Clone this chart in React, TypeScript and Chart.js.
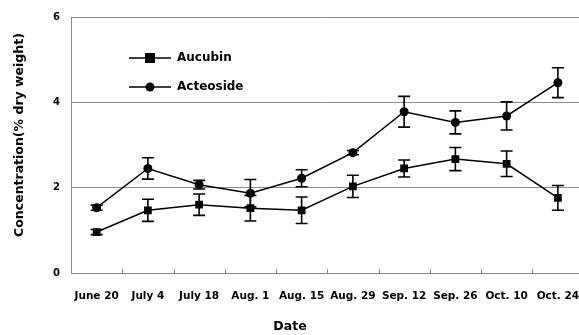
import React, { useEffect, useRef } from "react";
import { Chart, registerables } from "chart.js";

Chart.register(...registerables);

// Sampling dates and measured concentrations (% dry weight) with standard errors
const dates = ["June 20", "July 4", "July 18", "Aug. 1", "Aug. 15", "Aug. 29", "Sep. 12", "Sep. 26", "Oct. 10", "Oct. 24"];
const aucubin = [0.96, 1.47, 1.6, 1.52, 1.47, 2.03, 2.45, 2.67, 2.56, 1.76];
const aucubinErr = [0.06, 0.26, 0.25, 0.3, 0.31, 0.26, 0.2, 0.27, 0.3, 0.29];
const acteoside = [1.53, 2.45, 2.07, 1.87, 2.22, 2.82, 3.78, 3.53, 3.68, 4.46];
const acteosideErr = [0.06, 0.25, 0.1, 0.32, 0.2, 0.05, 0.36, 0.27, 0.33, 0.35];
const yTicks = [0, 2, 4, 6];
const seriesNames = ["Aucubin", "Acteoside"];

const FONT = '"DejaVu Sans", sans-serif';
const AXIS_GRAY = "#8a8a8a";

const errorBars = {
  id: "errorBars",
  beforeDatasetsDraw(chart: any) {
    const { ctx } = chart;
    const y = chart.scales.y;
    const errs = [aucubinErr, acteosideErr];
    ctx.save();
    ctx.strokeStyle = "#000";
    ctx.lineWidth = 1.6;
    chart.data.datasets.forEach((ds: any, di: number) => {
      const meta = chart.getDatasetMeta(di);
      meta.data.forEach((pt: any, i: number) => {
        const v = ds.data[i];
        const e = errs[di][i];
        const top = y.getPixelForValue(v + e);
        const bot = y.getPixelForValue(v - e);
        const x = pt.x;
        ctx.beginPath();
        ctx.moveTo(x, top);
        ctx.lineTo(x, bot);
        ctx.moveTo(x - 6, top);
        ctx.lineTo(x + 6, top);
        ctx.moveTo(x - 6, bot);
        ctx.lineTo(x + 6, bot);
        ctx.stroke();
      });
    });
    ctx.restore();
  },
};

const decorations = {
  id: "decorations",
  afterDraw(chart: any) {
    const { ctx, chartArea } = chart;
    const xs = chart.scales.x;
    ctx.save();
    // inward tick marks between categories
    ctx.strokeStyle = AXIS_GRAY;
    ctx.lineWidth = 1;
    for (let i = 1; i < dates.length; i++) {
      const bx = Math.round((xs.getPixelForValue(i - 1) + xs.getPixelForValue(i)) / 2) + 0.5;
      ctx.beginPath();
      ctx.moveTo(bx, chartArea.bottom);
      ctx.lineTo(bx, chartArea.bottom - 4);
      ctx.stroke();
    }

    // legend
    ctx.strokeStyle = "#000";
    ctx.fillStyle = "#000";
    ctx.lineWidth = 1.5;
    const rows = [58, 87];
    rows.forEach((ly, k) => {
      ctx.beginPath();
      ctx.moveTo(129, ly);
      ctx.lineTo(171, ly);
      ctx.stroke();
      if (k === 0) {
        ctx.fillRect(145, ly - 5, 10, 10);
      } else {
        ctx.beginPath();
        ctx.arc(150, ly, 4.5, 0, Math.PI * 2);
        ctx.fill();
      }
      ctx.font = `bold 12px ${FONT}`;
      ctx.textAlign = "left";
      ctx.textBaseline = "middle";
      ctx.fillText(seriesNames[k], 177, ly);
    });

    // axis titles
    ctx.font = `bold 12.5px ${FONT}`;
    ctx.textAlign = "center";
    ctx.textBaseline = "middle";
    ctx.fillText("Date", 290, 327);
    ctx.translate(20, 135);
    ctx.rotate(-Math.PI / 2);
    ctx.fillText("Concentration(% dry weight)", 0, 0);
    ctx.restore();
  },
};

export default function App() {
  const ref = useRef<HTMLCanvasElement>(null);

  useEffect(() => {
    if (!ref.current) return;
    const chart = new Chart(ref.current, {
      type: "line",
      data: {
        labels: dates,
        datasets: [
          {
            label: seriesNames[0],
            data: aucubin,
            borderColor: "#000",
            backgroundColor: "#000",
            borderWidth: 1.5,
            pointStyle: "rect",
            pointRadius: 5.5,
            pointBorderWidth: 0,
            tension: 0,
          },
          {
            label: seriesNames[1],
            data: acteoside,
            borderColor: "#000",
            backgroundColor: "#000",
            borderWidth: 1.5,
            pointStyle: "circle",
            pointRadius: 4.5,
            pointBorderWidth: 0,
            tension: 0,
          },
        ],
      },
      options: {
        responsive: false,
        animation: false,
        devicePixelRatio: 1,
        layout: { padding: { top: 17, right: 1, left: 0, bottom: 0 } },
        plugins: {
          legend: { display: false },
          tooltip: { enabled: false },
        },
        scales: {
          x: {
            type: "category",
            offset: true,
            grid: { display: false, drawTicks: false },
            border: { display: true, color: AXIS_GRAY, width: 1 },
            ticks: {
              color: "#000",
              padding: 17,
              maxRotation: 0,
              autoSkip: false,
              font: { family: FONT, size: 10.5, weight: "bold" },
            },
            afterFit(scale: any) {
              scale.height = 62;
              scale.paddingLeft = 0;
              scale.paddingRight = 0;
            },
          },
          y: {
            min: 0,
            max: 6,
            afterBuildTicks(scale: any) {
              scale.ticks = yTicks.map((v) => ({ value: v }));
            },
            grid: { color: AXIS_GRAY, lineWidth: 1, drawTicks: false },
            border: { display: true, color: AXIS_GRAY, width: 1 },
            ticks: {
              color: "#000",
              padding: 11,
              font: { family: FONT, size: 10, weight: "bold" },
            },
            afterFit(scale: any) {
              scale.width = 71;
              scale.paddingTop = 0;
              scale.paddingBottom = 0;
            },
          },
        },
      },
      plugins: [errorBars, decorations],
    });
    return () => chart.destroy();
  }, []);

  return (
    <div style={{ position: "fixed", left: 0, top: 0, width: 579, height: 335, overflow: "hidden", background: "#fff" }}>
      <canvas ref={ref} width={589} height={335} style={{ display: "block" }} />
    </div>
  );
}
